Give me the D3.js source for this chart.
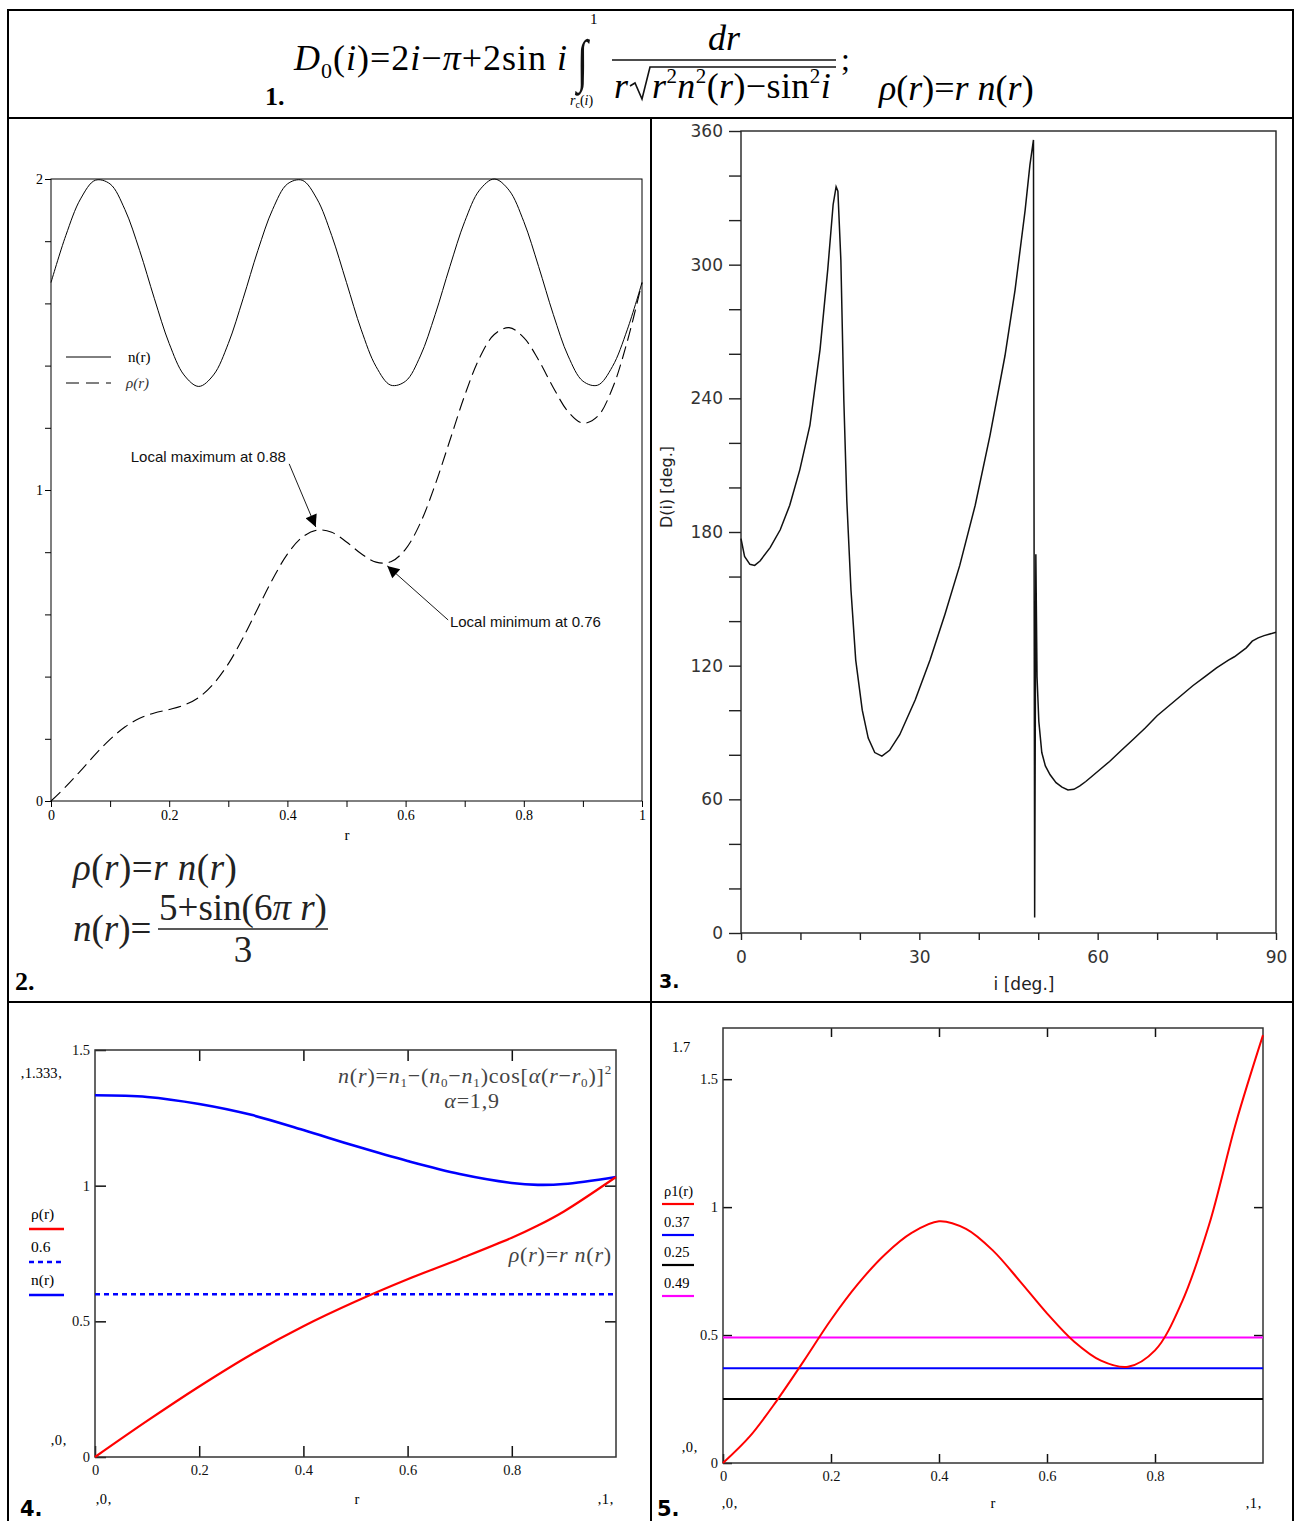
<!DOCTYPE html>
<html>
<head>
<meta charset="utf-8">
<script src="https://cdn.jsdelivr.net/npm/d3@7"></script>
<style>
  body { margin: 0; background: #fff; }
  svg { display: block; }
</style>
</head>
<body>
<svg width="1300" height="1521"></svg>
<script>
// ---- panel 2: n(r) and rho(r), read at r = 0 .. 1 every 0.025
const p2R = [0, 0.025, 0.05, 0.075, 0.1, 0.125, 0.15, 0.175, 0.2, 0.225, 0.25, 0.275, 0.3, 0.325,
  0.35, 0.375, 0.4, 0.425, 0.45, 0.475, 0.5, 0.525, 0.55, 0.575, 0.6, 0.625, 0.65, 0.675, 0.7,
  0.725, 0.75, 0.775, 0.8, 0.825, 0.85, 0.875, 0.9, 0.925, 0.95, 0.975, 1];
const p2N = [1.667, 1.818, 1.936, 1.996, 1.984, 1.902, 1.770, 1.615, 1.471, 1.370, 1.333, 1.370,
  1.471, 1.615, 1.770, 1.902, 1.984, 1.996, 1.936, 1.818, 1.667, 1.515, 1.397, 1.337, 1.350,
  1.431, 1.564, 1.719, 1.863, 1.964, 2.000, 1.964, 1.863, 1.719, 1.564, 1.431, 1.350, 1.337,
  1.397, 1.515, 1.667];
const p2Rho = [0, 0.046, 0.097, 0.150, 0.198, 0.238, 0.266, 0.283, 0.294, 0.308, 0.333, 0.377,
  0.441, 0.525, 0.620, 0.713, 0.794, 0.848, 0.871, 0.864, 0.833, 0.795, 0.768, 0.769, 0.810,
  0.894, 1.017, 1.160, 1.304, 1.424, 1.500, 1.522, 1.490, 1.418, 1.329, 1.252, 1.215, 1.237,
  1.327, 1.477, 1.667];
const p2XTicks = [0, 0.1, 0.2, 0.3, 0.4, 0.5, 0.6, 0.7, 0.8, 0.9, 1];
const p2XLabels = [0, 0.2, 0.4, 0.6, 0.8, 1];
const p2YTicks = [0, 0.2, 0.4, 0.6, 0.8, 1, 1.2, 1.4, 1.6, 1.8, 2];
const p2YLabels = [0, 1, 2];
const p2Notes = [
  { text: 'Local maximum at 0.88', tr: 0.135, tv: 1.09, r0: 0.403, v0: 1.084, r1: 0.448, v1: 0.881 },
  { text: 'Local minimum at 0.76', tr: 0.675, tv: 0.559, r0: 0.672, v0: 0.582, r1: 0.569, v1: 0.756 }
];

// ---- panel 3: D(i) in degrees
const p3I = [0, 0.6, 1.5, 2.3, 3.2, 4.9, 6.6, 8.2, 9.9, 11.6, 13.3, 14.6, 15.5, 16.0, 16.3, 16.8,
  17.3, 17.8, 18.5, 19.3, 20.4, 21.4, 22.5, 23.7, 25.0, 26.7, 29.3, 31.8, 34.3, 36.8, 39.4, 41.9,
  44.4, 46.1, 47.8, 48.6, 49.2, 49.4, 49.6, 49.8, 50.1, 50.6, 51.2, 52, 53, 54, 55, 56, 57, 58,
  60, 62, 64, 66, 68, 70, 72, 74, 76, 78, 80, 82, 83, 84, 85, 86, 87, 88, 90];
const p3D = [177, 169, 165.5, 165, 167, 173, 181, 192, 208, 228, 262, 298, 327, 335, 333, 302,
  239, 194, 154, 122.5, 100, 87.5, 81, 79.4, 82, 89, 104.6, 122.5, 143, 165, 192, 223.5,
  259, 288.6, 324.5, 344.7, 356, 7, 170, 115, 95, 81, 75, 71, 67.5, 65.5, 64.2, 64.5, 66, 68,
  72.5, 77, 82, 87, 92, 97.5, 102, 106.5, 111, 115, 119, 122.5, 124, 126, 128, 131, 132.5, 133.5, 135];
const p3XTicks = [0, 10, 20, 30, 40, 50, 60, 70, 80, 90];
const p3XLabels = [0, 30, 60, 90];
const p3YTicks = [0, 20, 40, 60, 80, 100, 120, 140, 160, 180, 200, 220, 240, 260, 280, 300, 320, 340, 360];
const p3YLabels = [0, 60, 120, 180, 240, 300, 360];

// ---- panel 4
const p4R = [0, 0.1, 0.2, 0.3, 0.4, 0.5, 0.6, 0.7, 0.8, 0.85, 0.9, 1];
const p4N = [1.333, 1.327, 1.301, 1.261, 1.205, 1.146, 1.091, 1.043, 1.010, 1.003, 1.006, 1.032];
const p4Rho = [0, 0.133, 0.260, 0.378, 0.482, 0.573, 0.655, 0.730, 0.808, 0.853, 0.905, 1.032];
const p4Level = 0.6;
const p4XLabels = [0, 0.2, 0.4, 0.6, 0.8];
const p4YLabels = [0, 0.5, 1, 1.5];

// ---- panel 5
const p5R = [0, 0.05, 0.1, 0.15, 0.2, 0.25, 0.3, 0.35, 0.4, 0.45, 0.5, 0.55, 0.6, 0.65, 0.7,
  0.75, 0.8, 0.85, 0.9, 0.95, 1];
const p5Rho1 = [0, 0.105, 0.245, 0.40, 0.56, 0.70, 0.815, 0.90, 0.945, 0.915, 0.83, 0.71,
  0.585, 0.475, 0.40, 0.376, 0.44, 0.63, 0.93, 1.33, 1.672];
const p5Levels = [0.37, 0.25, 0.49];
const p5LevelColors = ['#0000ff', '#000000', '#ff00ff'];
const p5XLabels = [0, 0.2, 0.4, 0.6, 0.8];
const p5YLabels = [0, 0.5, 1, 1.5];

const SERIF = '"Liberation Serif", "Times New Roman", serif';
const SANS = '"Liberation Sans", Arial, sans-serif';
const DSANS = '"DejaVu Sans", Verdana, sans-serif';

const svg = d3.select('svg');

// table grid
svg.append('rect')
  .attr('x', 8).attr('y', 10).attr('width', 1285).attr('height', 1520)
  .attr('fill', 'none').attr('stroke', '#000').attr('stroke-width', 2);
[[8, 118, 1293, 118], [8, 1002, 1293, 1002], [651, 118, 651, 1521]].forEach(l => {
  svg.append('line')
    .attr('x1', l[0]).attr('y1', l[1]).attr('x2', l[2]).attr('y2', l[3])
    .attr('stroke', '#000').attr('stroke-width', 2);
});

function txt(g, x, y, html, opts) {
  opts = opts || {};
  return g.append('text')
    .attr('x', x).attr('y', y)
    .attr('font-family', opts.font || SERIF)
    .attr('font-size', opts.size || 14)
    .attr('font-style', opts.style || 'normal')
    .attr('font-weight', opts.weight || 'normal')
    .attr('text-anchor', opts.anchor || 'start')
    .attr('letter-spacing', opts.spacing || 0)
    .attr('fill', opts.fill || '#000')
    .html(html);
}

function styleAxis(g, font, size, fill, stroke) {
  g.select('.domain').remove();
  g.selectAll('text').attr('font-family', font).attr('font-size', size).attr('fill', fill);
  g.selectAll('line').attr('stroke', stroke);
}

// ---- 1. formula
const gTop = svg.append('g').attr('fill', '#111');
txt(gTop, 265, 105, '1.', { size: 26, weight: 'bold' });
txt(gTop, 294, 70,
  '<tspan font-style="italic">D</tspan><tspan font-size="22" dy="8">0</tspan>' +
  '<tspan dy="-8">(</tspan><tspan font-style="italic">i</tspan>)=2<tspan font-style="italic">i</tspan>' +
  '−<tspan font-style="italic">π</tspan>+2sin <tspan font-style="italic">i</tspan>',
  { size: 36, spacing: 1 });
gTop.append('text')
  .attr('transform', 'translate(577,80) scale(1,1.45)')
  .attr('font-family', SERIF).attr('font-size', 40).text('∫');
txt(gTop, 590, 24, '1', { size: 15 });
txt(gTop, 570, 105, '<tspan font-style="italic">r</tspan><tspan font-size="10" dy="3">c</tspan><tspan dy="-3">(</tspan><tspan font-style="italic">i</tspan>)', { size: 14 });
txt(gTop, 724, 50, '<tspan font-style="italic">dr</tspan>', { size: 36, anchor: 'middle' });
gTop.append('line').attr('x1', 612).attr('x2', 836).attr('y1', 60).attr('y2', 60)
  .attr('stroke', '#111').attr('stroke-width', 1.6);
txt(gTop, 614, 98, '<tspan font-style="italic">r</tspan>', { size: 36 });
gTop.append('path')
  .attr('d', 'M630,86 L635,83 L642,99 L650,67 L836,67')
  .attr('fill', 'none').attr('stroke', '#111').attr('stroke-width', 1.6);
txt(gTop, 652, 98,
  '<tspan font-style="italic">r</tspan><tspan font-size="21" dy="-15">2</tspan>' +
  '<tspan font-style="italic" dy="15">n</tspan><tspan font-size="21" dy="-15">2</tspan>' +
  '<tspan dy="15">(</tspan><tspan font-style="italic">r</tspan>)−sin<tspan font-size="21" dy="-15">2</tspan>' +
  '<tspan font-style="italic" dy="15">i</tspan>',
  { size: 36, spacing: 0.4 });
txt(gTop, 841, 70, ';', { size: 32 });
txt(gTop, 879, 100,
  '<tspan font-style="italic">ρ</tspan>(<tspan font-style="italic">r</tspan>)=<tspan font-style="italic">r n</tspan>(<tspan font-style="italic">r</tspan>)',
  { size: 36 });

// ---- 2. n(r) and rho(r)
const x2 = d3.scaleLinear().domain([0, 1]).range([51, 642]);
const y2 = d3.scaleLinear().domain([0, 2]).range([801, 179]);
const g2 = svg.append('g');

g2.append('g')
  .attr('transform', 'translate(0,801)')
  .call(d3.axisBottom(x2).tickValues(p2XTicks).tickSize(6).tickPadding(3)
    .tickFormat(d => p2XLabels.some(v => Math.abs(v - d) < 1e-9) ? d3.format('~g')(d) : ''))
  .call(g => styleAxis(g, SERIF, 14, '#000', '#000'));
g2.append('g')
  .attr('transform', 'translate(51,0)')
  .call(d3.axisLeft(y2).tickValues(p2YTicks).tickSize(6).tickPadding(2)
    .tickFormat(d => p2YLabels.some(v => Math.abs(v - d) < 1e-9) ? d3.format('~g')(d) : ''))
  .call(g => styleAxis(g, SERIF, 14, '#000', '#000'));
g2.append('rect')
  .attr('x', x2(0)).attr('y', y2(2)).attr('width', x2(1) - x2(0)).attr('height', y2(0) - y2(2))
  .attr('fill', 'none').attr('stroke', '#000').attr('stroke-width', 1);

const line2 = vals => d3.line()
  .x((d, k) => x2(p2R[k])).y(d => y2(d))
  .curve(d3.curveCatmullRom)(vals);
g2.append('path').attr('d', line2(p2N))
  .attr('fill', 'none').attr('stroke', '#000').attr('stroke-width', 1);
g2.append('path').attr('d', line2(p2Rho))
  .attr('fill', 'none').attr('stroke', '#000').attr('stroke-width', 1.1)
  .attr('stroke-dasharray', '13,6');

txt(g2, 347, 840, 'r', { size: 15, anchor: 'middle' });

// legend
g2.append('line').attr('x1', 66).attr('x2', 111).attr('y1', 357).attr('y2', 357).attr('stroke', '#000');
g2.append('line').attr('x1', 66).attr('x2', 111).attr('y1', 383).attr('y2', 383)
  .attr('stroke', '#000').attr('stroke-dasharray', '13,7');
txt(g2, 128, 362, 'n(r)', { size: 15 });
txt(g2, 126, 388, 'ρ(r)', { size: 15, style: 'italic', fill: '#333' });

// annotations
const defs = svg.append('defs');
defs.append('marker')
  .attr('id', 'arr').attr('viewBox', '0 0 10 10').attr('refX', 10).attr('refY', 5)
  .attr('markerWidth', 14).attr('markerHeight', 12).attr('markerUnits', 'userSpaceOnUse')
  .attr('orient', 'auto')
  .append('path').attr('d', 'M0,0 L10,5 L0,10 Z').attr('fill', '#000');
p2Notes.forEach(n => {
  txt(g2, x2(n.tr), y2(n.tv), n.text, { font: SANS, size: 15, fill: '#111' });
  g2.append('line')
    .attr('x1', x2(n.r0)).attr('y1', y2(n.v0)).attr('x2', x2(n.r1)).attr('y2', y2(n.v1))
    .attr('stroke', '#000').attr('stroke-width', 0.9).attr('marker-end', 'url(#arr)');
});

// formulas under panel 2
txt(g2, 73, 880,
  '<tspan font-style="italic">ρ</tspan>(<tspan font-style="italic">r</tspan>)=<tspan font-style="italic">r n</tspan>(<tspan font-style="italic">r</tspan>)',
  { size: 37, fill: '#222', spacing: 0.5 });
txt(g2, 73, 941,
  '<tspan font-style="italic">n</tspan>(<tspan font-style="italic">r</tspan>)=',
  { size: 37, fill: '#222' });
txt(g2, 243, 920,
  '5+sin(6<tspan font-style="italic">π r</tspan>)', { size: 37, anchor: 'middle', fill: '#222' });
g2.append('line').attr('x1', 158).attr('x2', 328).attr('y1', 929).attr('y2', 929)
  .attr('stroke', '#222').attr('stroke-width', 1.5);
txt(g2, 243, 962, '3', { size: 37, anchor: 'middle', fill: '#222' });
txt(g2, 15, 990, '2.', { size: 26, weight: 'bold' });

// ---- 3. D(i)
const x3 = d3.scaleLinear().domain([0, 90]).range([741, 1276]);
const y3 = d3.scaleLinear().domain([0, 360]).range([933, 131]);
const g3 = svg.append('g');
g3.append('g')
  .attr('transform', 'translate(0,933)')
  .call(d3.axisBottom(x3).tickValues(p3XTicks).tickSize(7).tickPadding(11)
    .tickFormat(d => p3XLabels.includes(d) ? d : ''))
  .call(g => styleAxis(g, DSANS, 17, '#333', '#222'));
g3.append('g')
  .attr('transform', 'translate(741,0)')
  .call(d3.axisLeft(y3).tickValues(p3YTicks).tickSize(12).tickPadding(6)
    .tickFormat(d => p3YLabels.includes(d) ? d : ''))
  .call(g => styleAxis(g, DSANS, 17, '#333', '#222'));
g3.selectAll('.tick line').attr('stroke-width', 1.4);
g3.append('rect')
  .attr('x', x3(0)).attr('y', y3(360)).attr('width', x3(90) - x3(0)).attr('height', y3(0) - y3(360))
  .attr('fill', 'none').attr('stroke', '#222').attr('stroke-width', 1.4);
g3.append('path')
  .attr('d', d3.line().x((d, k) => x3(p3I[k])).y(d => y3(d))(p3D))
  .attr('fill', 'none').attr('stroke', '#111').attr('stroke-width', 1.5);
txt(g3, 1024, 990, 'i [deg.]', { font: DSANS, size: 17, anchor: 'middle', fill: '#222' });
g3.append('text')
  .attr('transform', 'translate(672,487) rotate(-90)')
  .attr('text-anchor', 'middle').attr('font-family', DSANS).attr('font-size', 16).attr('fill', '#222')
  .text('D(i) [deg.]');
txt(g3, 659, 988, '3.', { font: DSANS, size: 19, weight: 'bold' });

// ---- shared Mathcad style frame
function mathcadFrame(g, x, y, xLabels, yLabels, tick) {
  const [x0, x1] = x.range();
  const [yb, yt] = y.range();
  g.append('g').attr('transform', `translate(0,${yb})`)
    .call(d3.axisBottom(x).tickValues(xLabels).tickSize(-tick).tickPadding(8).tickFormat(d3.format('~g')))
    .call(a => styleAxis(a, SERIF, 14.5, '#111', '#111'));
  g.append('g').attr('transform', `translate(0,${yt})`)
    .call(d3.axisTop(x).tickValues(xLabels.slice(1)).tickSize(-tick).tickFormat(''))
    .call(a => styleAxis(a, SERIF, 14, '#111', '#111'));
  g.append('g').attr('transform', `translate(${x0},0)`)
    .call(d3.axisLeft(y).tickValues(yLabels).tickSize(-tick).tickPadding(5).tickFormat(d3.format('~g')))
    .call(a => styleAxis(a, SERIF, 14.5, '#111', '#111'));
  g.append('g').attr('transform', `translate(${x1},0)`)
    .call(d3.axisRight(y).tickValues(yLabels.slice(1, -1)).tickSize(-tick).tickFormat(''))
    .call(a => styleAxis(a, SERIF, 14, '#111', '#111'));
  g.selectAll('.tick line').attr('stroke-width', 1.5);
  g.append('rect')
    .attr('x', x0).attr('y', yt).attr('width', x1 - x0).attr('height', yb - yt)
    .attr('fill', 'none').attr('stroke', '#333').attr('stroke-width', 1.5);
}

// ---- 4.
const x4 = d3.scaleLinear().domain([0, 1]).range([95, 616]);
const y4 = d3.scaleLinear().domain([0, 1.5]).range([1457, 1050]);
const g4 = svg.append('g');
mathcadFrame(g4, x4, y4, p4XLabels, p4YLabels, 11);
const line4 = d3.line().x((d, k) => x4(p4R[k])).y(d => y4(d)).curve(d3.curveCatmullRom);
g4.append('line')
  .attr('x1', x4(0)).attr('x2', x4(1)).attr('y1', y4(p4Level)).attr('y2', y4(p4Level))
  .attr('stroke', '#0000ff').attr('stroke-width', 2.5).attr('stroke-dasharray', '5,4');
g4.append('path').attr('d', line4(p4N))
  .attr('fill', 'none').attr('stroke', '#0000ff').attr('stroke-width', 2.6);
g4.append('path').attr('d', line4(p4Rho))
  .attr('fill', 'none').attr('stroke', '#ff0000').attr('stroke-width', 2.2);
txt(g4, 20, 1078, '‚1.333‚', { size: 14.5 });
txt(g4, 50, 1445, '‚0‚', { size: 14.5 });
txt(g4, 95, 1504, '‚0‚', { size: 14.5 });
txt(g4, 357, 1504, 'r', { size: 14.5, anchor: 'middle' });
txt(g4, 597, 1504, '‚1‚', { size: 14.5 });
// legend
[['ρ(r)', 1219, '#ff0000', null], ['0.6', 1252, '#0000ff', '5,4'], ['n(r)', 1285, '#0000ff', null]]
  .forEach(l => {
    txt(g4, 31, l[1], l[0], { size: 15.5 });
    g4.append('line').attr('x1', 29).attr('x2', 64).attr('y1', l[1] + 10).attr('y2', l[1] + 10)
      .attr('stroke', l[2]).attr('stroke-width', 2.5).attr('stroke-dasharray', l[3]);
  });
txt(g4, 612, 1083,
  '<tspan font-style="italic">n</tspan>(<tspan font-style="italic">r</tspan>)=<tspan font-style="italic">n</tspan><tspan font-size="13" dy="4">1</tspan>' +
  '<tspan dy="-4">−(</tspan><tspan font-style="italic">n</tspan><tspan font-size="13" dy="4">0</tspan>' +
  '<tspan dy="-4">−</tspan><tspan font-style="italic">n</tspan><tspan font-size="13" dy="4">1</tspan>' +
  '<tspan dy="-4">)cos[</tspan><tspan font-style="italic">α</tspan>(<tspan font-style="italic">r</tspan>−<tspan font-style="italic">r</tspan>' +
  '<tspan font-size="13" dy="4">0</tspan><tspan dy="-4">)]</tspan><tspan font-size="13" dy="-9">2</tspan>',
  { size: 22, anchor: 'end', fill: '#444', spacing: 0.8 });
txt(g4, 472, 1108, '<tspan font-style="italic">α</tspan>=1,9', { size: 22, anchor: 'middle', fill: '#444', spacing: 0.8 });
txt(g4, 612, 1262,
  '<tspan font-style="italic">ρ</tspan>(<tspan font-style="italic">r</tspan>)=<tspan font-style="italic">r n</tspan>(<tspan font-style="italic">r</tspan>)',
  { size: 22, anchor: 'end', fill: '#444', spacing: 0.8 });
txt(g4, 20, 1516, '4.', { font: DSANS, size: 21, weight: 'bold' });

// ---- 5.
const x5 = d3.scaleLinear().domain([0, 1]).range([723, 1263]);
const y5 = d3.scaleLinear().domain([0, 1.7]).range([1463, 1028]);
const g5 = svg.append('g');
mathcadFrame(g5, x5, y5, p5XLabels, p5YLabels, 9);
p5Levels.forEach((v, k) => {
  g5.append('line')
    .attr('x1', x5(0)).attr('x2', x5(1)).attr('y1', y5(v)).attr('y2', y5(v))
    .attr('stroke', p5LevelColors[k]).attr('stroke-width', 2);
});
g5.append('path')
  .attr('d', d3.line().x((d, k) => x5(p5R[k])).y(d => y5(d)).curve(d3.curveCatmullRom)(p5Rho1))
  .attr('fill', 'none').attr('stroke', '#ff0000').attr('stroke-width', 2);
txt(g5, 672, 1052, '1.7', { size: 14.5 });
txt(g5, 681, 1452, '‚0‚', { size: 14.5 });
txt(g5, 721, 1508, '‚0‚', { size: 14.5 });
txt(g5, 993, 1508, 'r', { size: 14.5, anchor: 'middle' });
txt(g5, 1245, 1508, '‚1‚', { size: 14.5 });
[['ρ1(r)', 1196, '#ff0000'], ['0.37', 1227, '#0000ff'], ['0.25', 1257, '#000000'], ['0.49', 1288, '#ff00ff']]
  .forEach(l => {
    txt(g5, 664, l[1], l[0], { size: 14.5 });
    g5.append('line').attr('x1', 662).attr('x2', 694).attr('y1', l[1] + 8).attr('y2', l[1] + 8)
      .attr('stroke', l[2]).attr('stroke-width', 2.2);
  });
txt(g5, 657, 1516, '5.', { font: DSANS, size: 21, weight: 'bold' });
</script>
</body>
</html>
